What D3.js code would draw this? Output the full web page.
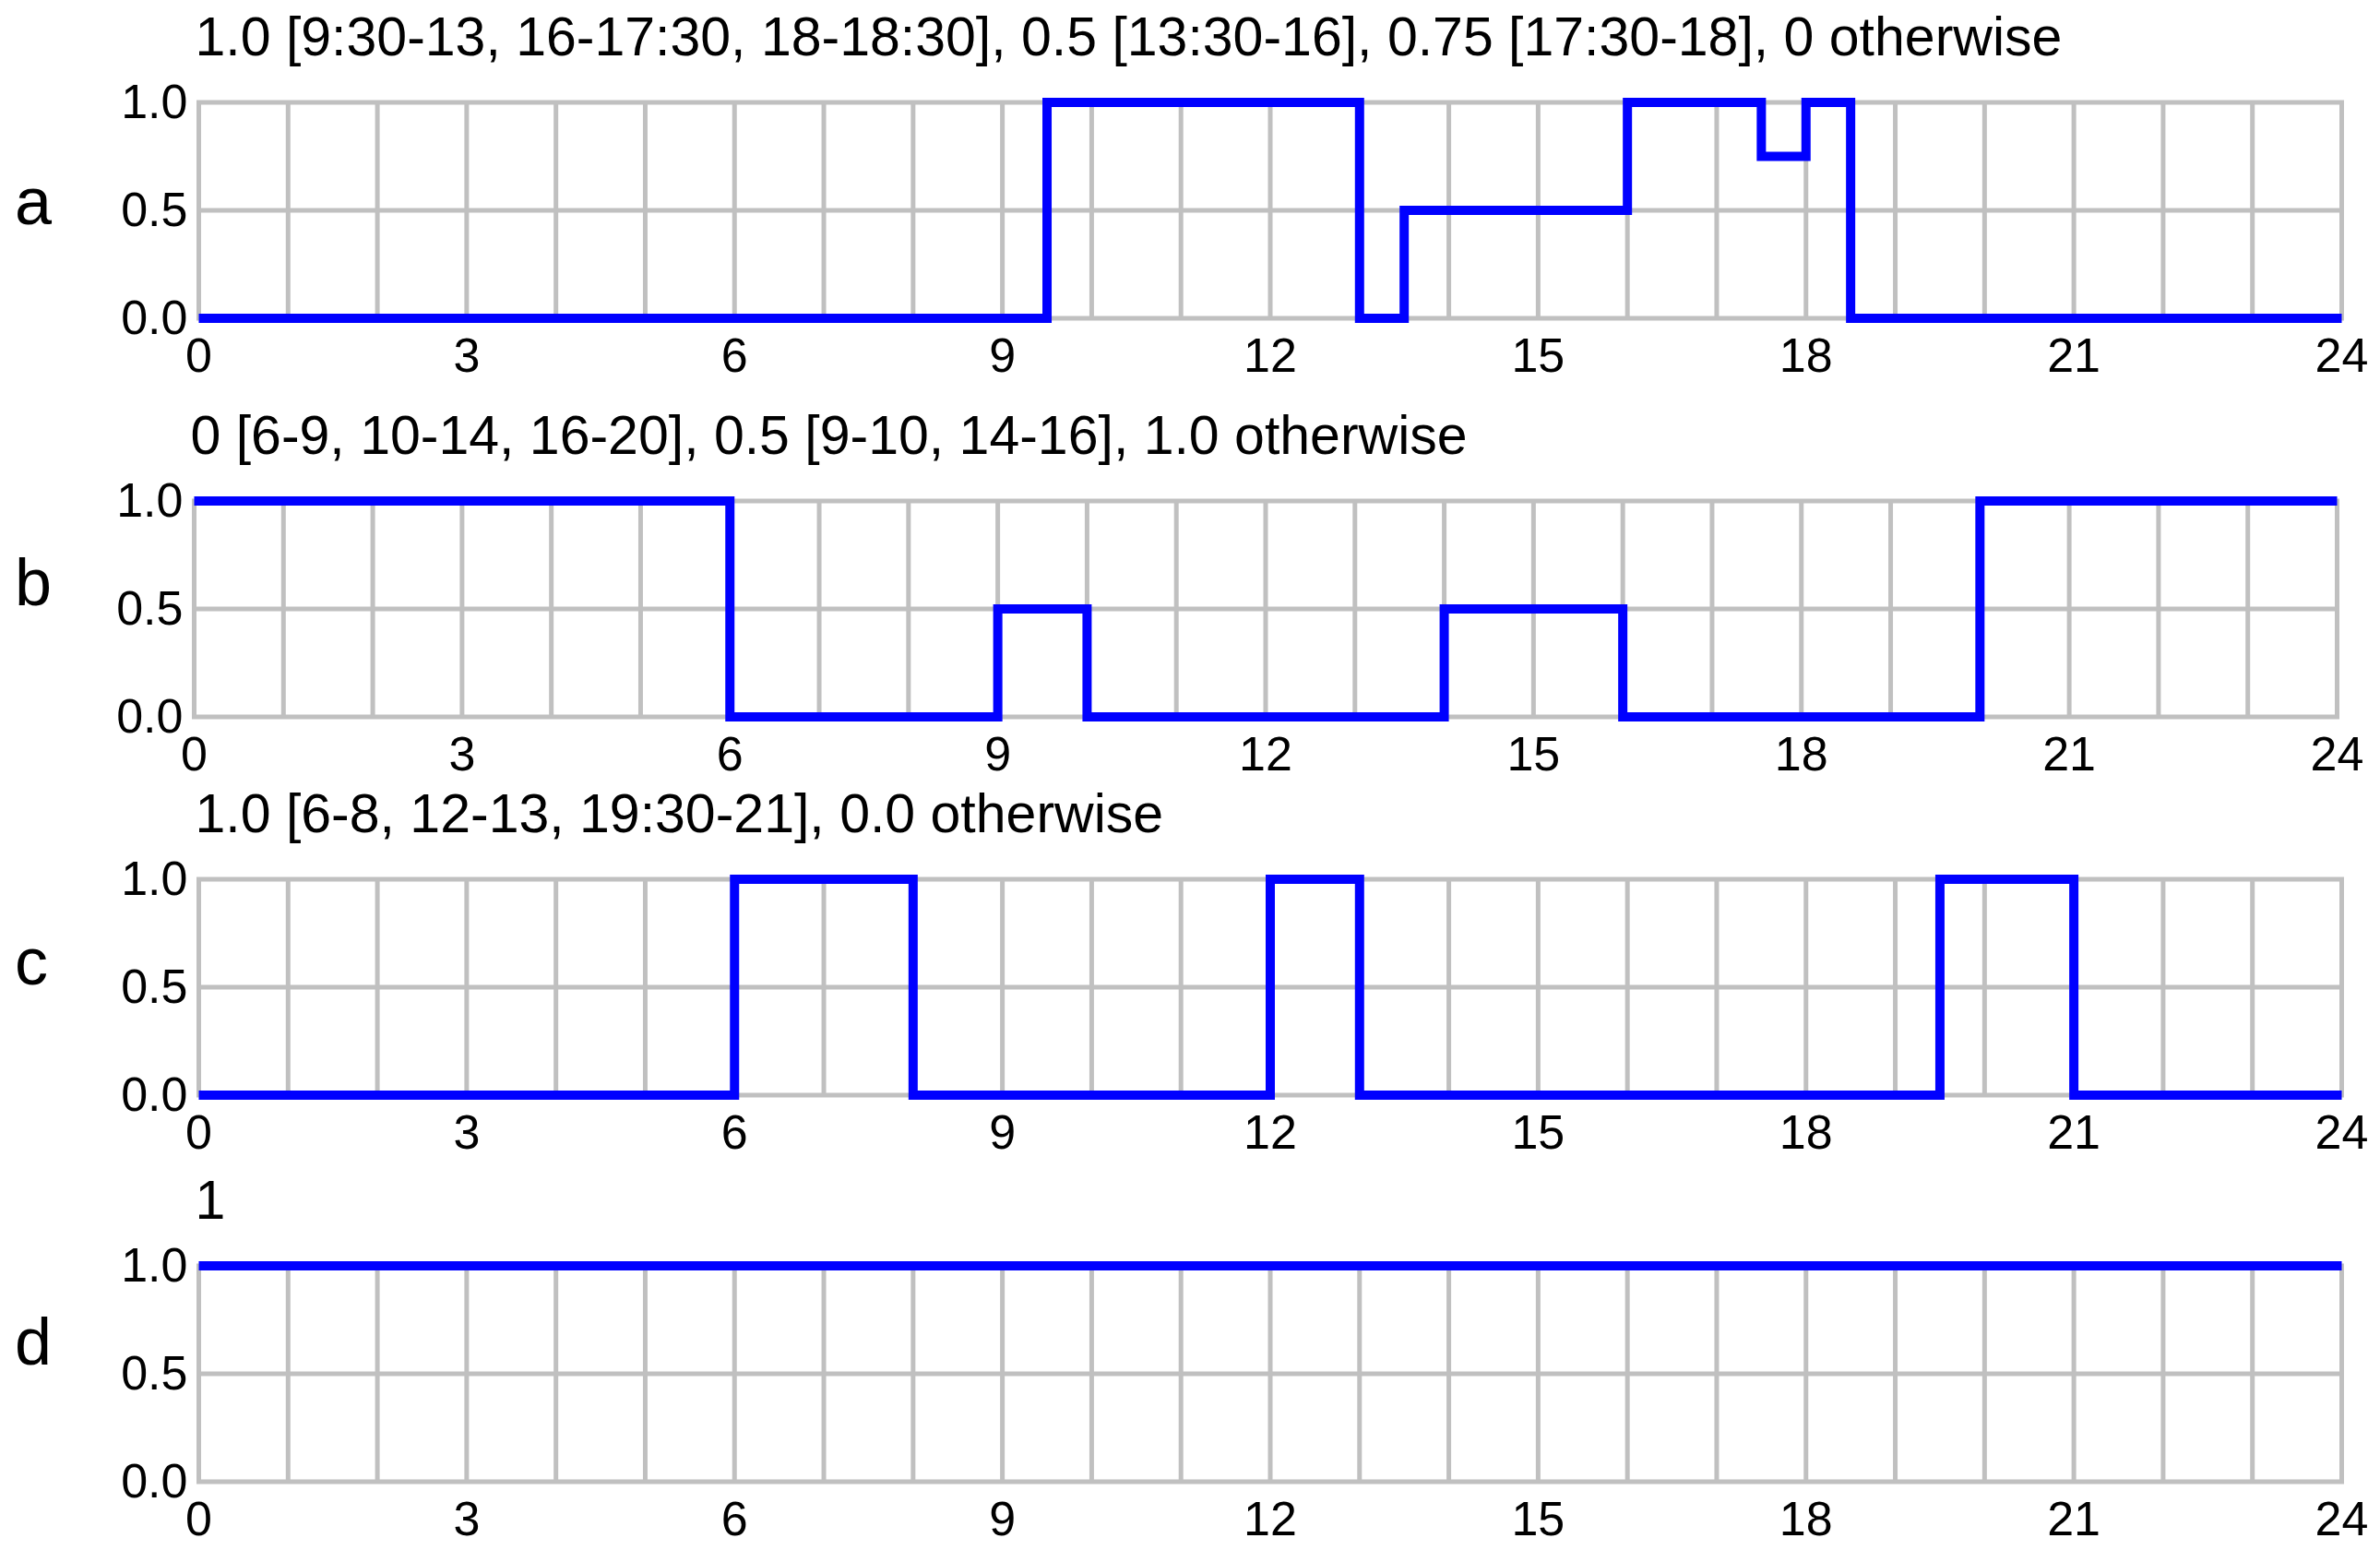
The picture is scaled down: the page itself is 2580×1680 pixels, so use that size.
<!DOCTYPE html>
<html>
<head>
<meta charset="utf-8">
<script src="https://cdn.jsdelivr.net/npm/d3@7"></script>
<style>
  html, body { margin: 0; padding: 0; background: #fff; }
  svg text { font-family: "Liberation Sans", Arial, sans-serif; fill: #000; }
</style>
</head>
<body>
<svg id="chart" width="2580" height="1680"></svg>
<script>
// panel names + descriptions
const panelLetters = ["a", "b", "c", "d"];
const panelTitles = [
  "1.0 [9:30-13, 16-17:30, 18-18:30], 0.5 [13:30-16], 0.75 [17:30-18], 0 otherwise",
  "0 [6-9, 10-14, 16-20], 0.5 [9-10, 14-16], 1.0 otherwise",
  "1.0 [6-8, 12-13, 19:30-21], 0.0 otherwise",
  "1"
];

// step breakpoints (hour) and the value holding from that hour on
const hoursA = [0, 9.5, 13, 13.5, 16, 17.5, 18, 18.5, 24];
const valuesA = [0, 1, 0, 0.5, 1, 0.75, 1, 0, 0];
const hoursB = [0, 6, 9, 10, 14, 16, 20, 24];
const valuesB = [1, 0, 0.5, 0, 0.5, 0, 1, 1];
const hoursC = [0, 6, 8, 12, 13, 19.5, 21, 24];
const valuesC = [0, 1, 0, 1, 0, 1, 0, 0];
const hoursD = [0, 24];
const valuesD = [1, 1];

const xTicks = [0, 3, 6, 9, 12, 15, 18, 21, 24];
const xGrid = d3.range(0, 25, 1);
const yTicks = [0, 0.5, 1];

const series = [
  [hoursA, valuesA],
  [hoursB, valuesB],
  [hoursC, valuesC],
  [hoursD, valuesD]
];

// layout (px): top of each plot (value 1.0), horizontal shift, letter baseline below top
const plotTops = [111, 543, 953, 1372];
const plotShift = [0, -5, 0, 0];
const letterDrop = [132, 113, 114, 107];
const plotH = 234;
const left = 215.5, right = 2538.5;

const gridColor = "#c0c0c0",
  lineColor = "#0000ff",
  tickFont = 52,
  titleFont = 59,
  letterFont = 72;

const svg = d3.select("#chart");

series.forEach(([hours, values], i) => {
  const x = d3.scaleLinear().domain([0, 24]).range([left + plotShift[i], right + plotShift[i]]);
  const y = d3.scaleLinear().domain([0, 1]).range([plotTops[i] + plotH, plotTops[i]]);

  const g = svg.append("g").attr("class", "panel-" + panelLetters[i]);

  // grid
  g.append("g")
    .selectAll("line")
    .data(xGrid)
    .join("line")
    .attr("x1", d => x(d))
    .attr("x2", d => x(d))
    .attr("y1", y(1))
    .attr("y2", y(0))
    .attr("stroke", gridColor)
    .attr("stroke-width", 5);
  g.append("g")
    .selectAll("line")
    .data(yTicks)
    .join("line")
    .attr("x1", x(0) - 2.5)
    .attr("x2", x(24) + 2.5)
    .attr("y1", d => y(d))
    .attr("y2", d => y(d))
    .attr("stroke", gridColor)
    .attr("stroke-width", 5);

  // y tick labels
  g.append("g")
    .selectAll("text")
    .data(yTicks)
    .join("text")
    .attr("x", x(0) - 12)
    .attr("y", d => y(d) + 17)
    .attr("text-anchor", "end")
    .attr("font-size", tickFont)
    .text(d3.format(".1f"));

  // x tick labels
  g.append("g")
    .selectAll("text")
    .data(xTicks)
    .join("text")
    .attr("x", d => x(d))
    .attr("y", y(0) + 58)
    .attr("text-anchor", "middle")
    .attr("font-size", tickFont)
    .text(d => d);

  // title
  g.append("text")
    .attr("x", x(0) - 4)
    .attr("y", y(1) - 51)
    .attr("font-size", titleFont)
    .text(panelTitles[i]);

  // panel letter
  g.append("text")
    .attr("x", 16)
    .attr("y", y(1) + letterDrop[i])
    .attr("font-size", letterFont)
    .text(panelLetters[i]);

  // step line
  const pts = hours.map((h, k) => [h, values[k]]);
  const line = d3.line()
    .x(d => x(d[0]))
    .y(d => y(d[1]))
    .curve(d3.curveStepAfter);
  g.append("path")
    .attr("d", line(pts))
    .attr("fill", "none")
    .attr("stroke", lineColor)
    .attr("stroke-width", 10)
    .attr("stroke-linejoin", "miter")
    .attr("stroke-linecap", "butt");
});
</script>
</body>
</html>
